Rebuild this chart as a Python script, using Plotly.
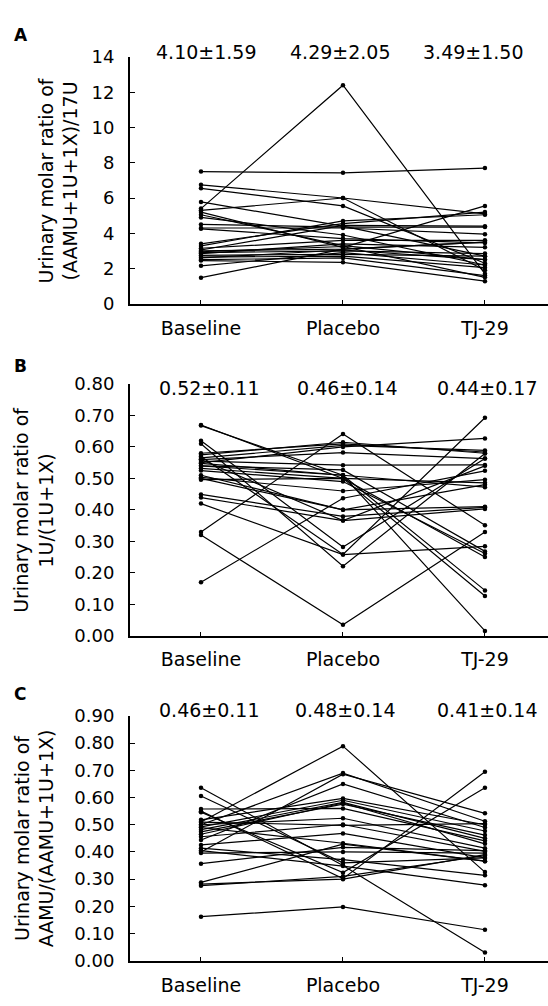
import plotly.graph_objects as go

W, H = 548, 1006
categories = ["Baseline", "Placebo", "TJ-29"]

# Panel A: (AAMU+1U+1X)/17U  -- one entry per subject
A_baseline = [7.50, 5.40, 6.75, 6.55, 5.30, 5.78, 5.20, 5.05, 4.90, 4.50, 4.30, 4.25, 3.40, 3.28,
              3.15, 3.00, 2.90, 2.85, 2.75, 2.65, 2.60, 2.50, 2.45, 2.15, 1.48, 3.05, 2.95]
A_placebo = [7.43, 12.40, 6.00, 5.55, 6.00, 4.40, 3.20, 3.30, 3.90, 4.35, 4.30, 3.70, 4.55, 4.70,
             3.60, 3.10, 3.00, 3.40, 2.80, 2.70, 3.05, 2.60, 2.35, 2.90, 3.10, 4.45, 3.25]
A_tj29 = [7.70, 1.70, 5.10, 2.30, 1.90, 2.70, 5.55, 2.50, 2.20, 4.35, 3.95, 3.45, 5.20, 5.05,
          3.60, 3.50, 2.85, 3.20, 2.70, 2.05, 2.50, 1.60, 1.28, 2.20, 3.50, 4.40, 1.50]

# Panel B: 1U/(1U+1X)
B_baseline = [0.670, 0.668, 0.620, 0.610, 0.580, 0.575, 0.565, 0.560, 0.555, 0.548, 0.540, 0.532,
              0.525, 0.503, 0.496, 0.500, 0.449, 0.439, 0.420, 0.330, 0.320, 0.170, 0.570, 0.550,
              0.540, 0.510, 0.560]
B_placebo = [0.500, 0.510, 0.282, 0.221, 0.610, 0.615, 0.605, 0.582, 0.542, 0.510, 0.527, 0.500,
             0.490, 0.460, 0.500, 0.400, 0.379, 0.366, 0.258, 0.641, 0.035, 0.437, 0.258, 0.600,
             0.510, 0.400, 0.366]
B_tj29 = [0.126, 0.144, 0.563, 0.579, 0.584, 0.580, 0.589, 0.563, 0.543, 0.015, 0.268, 0.250,
          0.261, 0.496, 0.486, 0.480, 0.408, 0.403, 0.284, 0.351, 0.330, 0.524, 0.693, 0.627,
          0.472, 0.410, 0.540]

# Panel C: AAMU/(AAMU+1U+1X)
C_baseline = [0.162, 0.510, 0.636, 0.606, 0.550, 0.546, 0.288, 0.282, 0.276, 0.357, 0.400, 0.500,
              0.444, 0.518, 0.492, 0.482, 0.474, 0.558, 0.500, 0.456, 0.426, 0.414, 0.405, 0.396,
              0.510, 0.490, 0.465]
C_placebo = [0.198, 0.789, 0.350, 0.360, 0.302, 0.324, 0.429, 0.300, 0.310, 0.417, 0.686, 0.690,
             0.650, 0.597, 0.590, 0.582, 0.576, 0.560, 0.524, 0.501, 0.468, 0.372, 0.348, 0.400,
             0.498, 0.432, 0.580]
C_tj29 = [0.114, 0.326, 0.030, 0.378, 0.695, 0.636, 0.366, 0.390, 0.386, 0.405, 0.542, 0.513,
          0.490, 0.500, 0.477, 0.450, 0.462, 0.441, 0.414, 0.402, 0.378, 0.314, 0.278, 0.396,
          0.504, 0.366, 0.430]

A_stats = ["4.10\u00b11.59", "4.29\u00b12.05", "3.49\u00b11.50"]
B_stats = ["0.52\u00b10.11", "0.46\u00b10.14", "0.44\u00b10.17"]
C_stats = ["0.46\u00b10.11", "0.48\u00b10.14", "0.41\u00b10.14"]

A_ticks = [0, 2, 4, 6, 8, 10, 12, 14]
B_ticks = [0.0, 0.1, 0.2, 0.3, 0.4, 0.5, 0.6, 0.7, 0.8]
C_ticks = [0.0, 0.1, 0.2, 0.3, 0.4, 0.5, 0.6, 0.7, 0.8, 0.9]

FONT = "DejaVu Sans"

def px_x(p):
    return p / W

def px_y(p):
    return 1 - p / H

panels = [
    dict(base=A_baseline, plac=A_placebo, tj=A_tj29, stats=A_stats, ticks=A_ticks,
         tickfmt="{:.0f}", top=47, bottom=299, ymax=14,
         title="Urinary molar ratio of<br>(AAMU+1U+1X)/17U", title_x=58,
         letter="A", letter_y=25, stats_x=[206, 340, 473], stats_y=42),
    dict(base=B_baseline, plac=B_placebo, tj=B_tj29, stats=B_stats, ticks=B_ticks,
         tickfmt="{:.2f}", top=381, bottom=638, ymax=0.8,
         title="Urinary molar ratio of<br>1U/(1U+1X)", title_x=34,
         letter="B", letter_y=363, stats_x=[209, 347, 487], stats_y=385),
    dict(base=C_baseline, plac=C_placebo, tj=C_tj29, stats=C_stats, ticks=C_ticks,
         tickfmt="{:.2f}", top=720, bottom=970, ymax=0.9,
         title="Urinary molar ratio of<br>AAMU/(AAMU+1U+1X)", title_x=34,
         letter="C", letter_y=698, stats_x=[209, 345, 487], stats_y=714),
]

fig = go.Figure()
annotations = []
layout_axes = {}

for i, p in enumerate(panels):
    n = i + 1
    xa = "x" if n == 1 else f"x{n}"
    ya = "y" if n == 1 else f"y{n}"
    for b, pl, t in zip(p["base"], p["plac"], p["tj"]):
        fig.add_trace(go.Scatter(
            x=categories, y=[b, pl, t], mode="lines+markers",
            line=dict(color="black", width=1.2),
            marker=dict(color="black", size=4.5),
            xaxis=xa, yaxis=ya, showlegend=False, cliponaxis=False, hoverinfo="skip"))

    xkey = "xaxis" if n == 1 else f"xaxis{n}"
    ykey = "yaxis" if n == 1 else f"yaxis{n}"
    layout_axes[xkey] = dict(
        domain=[px_x(130), 1.0], anchor=ya, type="category",
        range=[-0.5, 2.444], showgrid=False, zeroline=False,
        showline=True, linecolor="black", linewidth=2,
        ticks="inside", ticklen=4, tickwidth=1, tickcolor="black",
        tickfont=dict(family=FONT, size=19, color="black"),
        ticklabelstandoff=6, fixedrange=True)
    layout_axes[ykey] = dict(
        domain=[px_y(p["bottom"]), px_y(p["top"])], anchor=xa,
        range=[0, p["ymax"]], showgrid=False, zeroline=False,
        showline=True, linecolor="black", linewidth=2,
        ticks="inside", ticklen=5, tickwidth=1, tickcolor="black",
        tickvals=p["ticks"], ticktext=[p["tickfmt"].format(v) for v in p["ticks"]],
        tickfont=dict(family=FONT, size=18, color="black"),
        ticklabelstandoff=10, fixedrange=True)

    annotations.append(dict(
        x=px_x(p["title_x"]), y=px_y((p["top"] + p["bottom"]) / 2),
        xref="paper", yref="paper", text=p["title"], showarrow=False,
        textangle=-90, xanchor="center", yanchor="middle",
        font=dict(family=FONT, size=19, color="black")))
    annotations.append(dict(
        x=px_x(12), y=px_y(p["letter_y"]), xref="paper", yref="paper",
        text="<b>" + p["letter"] + "</b>", showarrow=False,
        xanchor="left", yanchor="middle",
        font=dict(family=FONT, size=17, color="black")))
    for sx, s in zip(p["stats_x"], p["stats"]):
        annotations.append(dict(
            x=px_x(sx), y=px_y(p["stats_y"]), xref="paper", yref="paper",
            text=s, showarrow=False, xanchor="center", yanchor="middle",
            font=dict(family=FONT, size=19, color="black")))

fig.update_layout(
    width=W, height=H, margin=dict(l=0, r=0, t=0, b=0),
    paper_bgcolor="white", plot_bgcolor="white",
    annotations=annotations, **layout_axes)

fig.write_html("out.html", config={"displayModeBar": False, "staticPlot": True},
               post_script="document.body.style.margin='0';document.body.style.padding='0';")
